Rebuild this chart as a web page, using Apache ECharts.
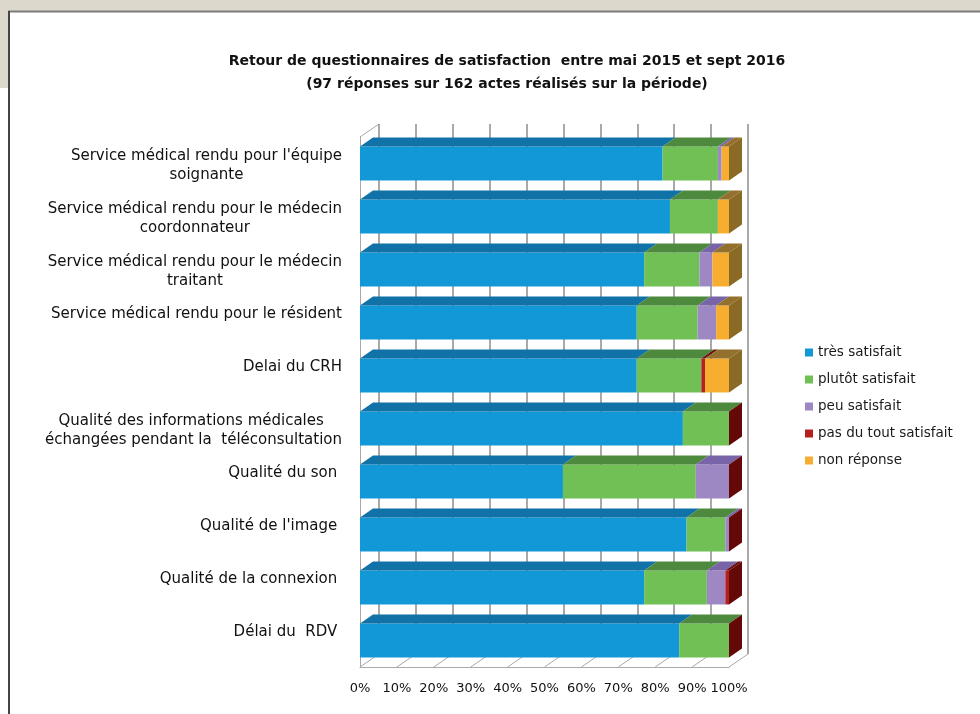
<!DOCTYPE html>
<html>
<head>
<meta charset="utf-8">
<title>Retour de questionnaires de satisfaction</title>
<script src="https://cdn.jsdelivr.net/npm/echarts@6/dist/echarts.min.js"></script>
<style>
  html, body { margin: 0; padding: 0; background: #fff; }
  #chart { width: 980px; height: 714px; }
</style>
</head>
<body>
<div id="chart"></div>
<script>
// rows, top to bottom
var categories = [
  "Service médical rendu pour l'équipe\nsoignante",
  "Service médical rendu pour le médecin\ncoordonnateur",
  "Service médical rendu pour le médecin\ntraitant",
  "Service médical rendu pour le résident",
  "Delai du CRH",
  "Qualité des informations médicales \néchangées pendant la  téléconsultation",
  "Qualité du son ",
  "Qualité de l'image ",
  "Qualité de la connexion ",
  "Délai du  RDV "
];

// shares in % (null = no value for that row)
var tresSatisfait      = [82, 84, 77, 75, 75, 87.5, 55, 88.5, 77, 86.5];
var plutotSatisfait    = [15, 13, 15, 16.5, 17.5, 12.5, 36, 10.5, 17, 13.5];
var peuSatisfait       = [1, 0, 3.5, 5, 0, 0, 9, 1, 5, 0];
var pasDuToutSatisfait = [0, 0, 0, 0, 1, 0, 0, 0, 1, 0];
var nonReponse         = [2, 3, 4.5, 3.5, 6.5, null, null, null, null, null];

var seriesNames = ["très satisfait", "plutôt satisfait", "peu satisfait", "pas du tout satisfait", "non réponse"];
var seriesValues = [tresSatisfait, plutotSatisfait, peuSatisfait, pasDuToutSatisfait, nonReponse];
var tickLabels = ["0%", "10%", "20%", "30%", "40%", "50%", "60%", "70%", "80%", "90%", "100%"];

// front / top / side colours of the 3d boxes
var colors = [
  { front: "#1297d7", top: "#1072a7", side: "#0c5c87" },
  { front: "#71c055", top: "#4e8a3e", side: "#3f7231" },
  { front: "#9d88c3", top: "#7964a8", side: "#5e4c88" },
  { front: "#b42020", top: "#6c0b0b", side: "#650808" },
  { front: "#f7ae30", top: "#93712c", side: "#8a6a25" }
];

var FONT = "DejaVu Sans";
var FRONT = { left: 360, top: 137, width: 369, height: 530 };
var BACK_DX = 19, BACK_DY = 13; // wall depth
var BOX_DX = 13, BOX_DY = 9;    // bar depth

// stack the rows, mark the last segment of each row (it gets the end cap)
function buildData(k) {
  var out = [];
  for (var r = 0; r < categories.length; r++) {
    var v = seriesValues[k][r];
    if (v == null) continue;
    var start = 0, last = 0;
    for (var j = 0; j < seriesValues.length; j++) {
      if (j < k && seriesValues[j][r] != null) start += seriesValues[j][r];
      if (seriesValues[j][r] != null) last = j;
    }
    out.push([start, start + v, r, last === k ? 1 : 0]);
  }
  return out;
}

function renderBox(params, api) {
  var c = colors[params.seriesIndex];
  var a = api.coord([api.value(0), api.value(2)]);
  var b = api.coord([api.value(1), api.value(2)]);
  var h = api.size([0, 1])[1] * 0.64;
  var yT = a[1] - h / 2, yB = a[1] + h / 2;
  var kids = [];
  if (b[0] - a[0] > 0.01) {
    kids.push({ type: "rect", shape: { x: a[0], y: yT, width: b[0] - a[0], height: h }, style: { fill: c.front } });
    kids.push({ type: "polygon", shape: { points: [[a[0], yT], [b[0], yT], [b[0] + BOX_DX, yT - BOX_DY], [a[0] + BOX_DX, yT - BOX_DY]] }, style: { fill: c.top } });
  }
  if (api.value(3)) {
    kids.push({ type: "polygon", shape: { points: [[b[0], yT], [b[0] + BOX_DX, yT - BOX_DY], [b[0] + BOX_DX, yB - BOX_DY], [b[0], yB]] }, style: { fill: c.side } });
  }
  return { type: "group", children: kids };
}

var series = seriesNames.map(function (name, k) {
  return {
    name: name,
    type: "custom",
    xAxisIndex: 0,
    yAxisIndex: 0,
    renderItem: renderBox,
    encode: { x: [0, 1], y: 2 },
    itemStyle: { color: colors[k].front },
    data: buildData(k),
    z: 3
  };
});

var chart = echarts.init(document.getElementById("chart"));

var option = {
  backgroundColor: "#fff",
  animation: false,
  title: {
    text: "Retour de questionnaires de satisfaction  entre mai 2015 et sept 2016\n(97 réponses sur 162 actes réalisés sur la période)",
    left: 502,
    top: 45,
    textAlign: "center",
    textStyle: { fontFamily: FONT, fontSize: 14, fontWeight: "bold", color: "#111", lineHeight: 23 }
  },
  legend: {
    data: seriesNames,
    orient: "vertical",
    left: 800,
    top: 340,
    icon: "rect",
    itemWidth: 8,
    itemHeight: 8,
    itemGap: 12,
    selectedMode: false,
    textStyle: { fontFamily: FONT, fontSize: 13.5, color: "#1a1a1a", lineHeight: 15 }
  },
  grid: [
    { left: FRONT.left, top: FRONT.top, width: FRONT.width, height: FRONT.height },
    { left: FRONT.left + BACK_DX, top: FRONT.top - BACK_DY, width: FRONT.width, height: FRONT.height }
  ],
  xAxis: [
    {
      gridIndex: 0, type: "value", min: 0, max: 100, interval: 10,
      axisLine: { show: true, lineStyle: { color: "#aaa" } },
      axisTick: { show: false },
      splitLine: { show: false },
      axisLabel: {
        fontFamily: FONT, fontSize: 13, color: "#111", margin: 15,
        formatter: function (v) { return tickLabels[Math.round(v / 10)]; }
      }
    },
    {
      gridIndex: 1, type: "value", min: 0, max: 100, interval: 10,
      axisLine: { show: false }, axisTick: { show: false }, axisLabel: { show: false },
      splitLine: { show: true, lineStyle: { color: "#8c8c8c", width: 1.5 } }
    }
  ],
  yAxis: [
    {
      gridIndex: 0, type: "category", data: categories, inverse: true,
      axisLine: { show: true, lineStyle: { color: "#a8a8a8" } },
      axisTick: { show: false },
      splitLine: { show: false },
      axisLabel: {
        margin: 18,
        formatter: function (v) {
          var lines = v.split("\n").map(function (s) { return "{c|" + s + "}"; });
          // single labels sit a little above the bar, wrapped ones a little below
          return lines.length > 1 ? "{g2| }\n" + lines.join("\n") : lines[0] + "\n{g1| }";
        },
        rich: {
          c: { align: "center", fontFamily: FONT, fontSize: 15, color: "#111", lineHeight: 19 },
          g1: { fontSize: 1, lineHeight: 16 },
          g2: { fontSize: 1, lineHeight: 5 }
        }
      }
    },
    { gridIndex: 1, type: "category", data: categories, inverse: true, show: false }
  ],
  series: series
};

chart.setOption(option);

// page frame and 3d wall / floor edges
var x0 = chart.convertToPixel({ xAxisIndex: 0 }, 0);
var x1 = chart.convertToPixel({ xAxisIndex: 0 }, 100);
var yTop = FRONT.top, yBot = FRONT.top + FRONT.height;
var edge = { stroke: "#a8a8a8", lineWidth: 1 };
var deco = [
  { type: "rect", shape: { x: 0, y: 0, width: 980, height: 11 }, style: { fill: "#dcd9cc" }, z: -10 },
  { type: "rect", shape: { x: 0, y: 0, width: 8, height: 88 }, style: { fill: "#dcd9cc" }, z: -10 },
  { type: "line", shape: { x1: 8, y1: 11.5, x2: 980, y2: 11.5 }, style: { stroke: "#7a7a7a", lineWidth: 2 }, z: -9 },
  { type: "line", shape: { x1: 9, y1: 11, x2: 9, y2: 714 }, style: { stroke: "#444", lineWidth: 2 }, z: -9 },
  { type: "line", shape: { x1: x0, y1: yTop, x2: x0 + BACK_DX, y2: yTop - BACK_DY }, style: edge, z: -5 },
  { type: "line", shape: { x1: x1, y1: yBot, x2: x1 + BACK_DX, y2: yBot - BACK_DY }, style: edge, z: -5 }
];
for (var i = 0; i < tickLabels.length - 1; i++) {
  var tx = chart.convertToPixel({ xAxisIndex: 0 }, i * 10);
  deco.push({ type: "line", shape: { x1: tx, y1: yBot, x2: tx + BACK_DX, y2: yBot - BACK_DY }, style: edge, z: -5 });
}
chart.setOption({ graphic: { elements: deco } });
</script>
</body>
</html>
